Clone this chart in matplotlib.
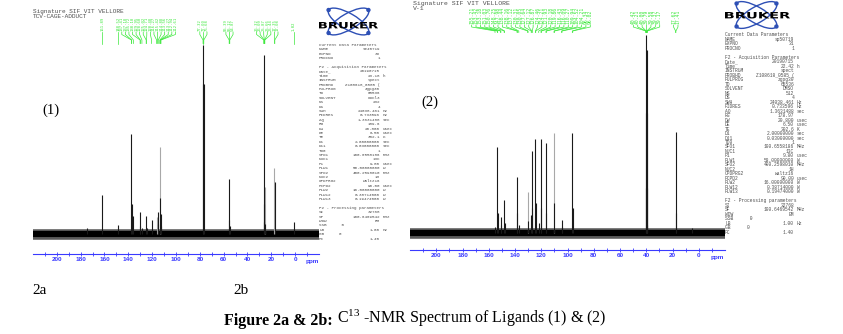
import numpy as np
import matplotlib.pyplot as plt
from matplotlib.patches import Ellipse, Circle, PathPatch
from matplotlib.textpath import TextPath
from matplotlib.font_manager import FontProperties
from matplotlib.transforms import Affine2D, blended_transform_factory

plt.rcParams['mathtext.fontset'] = 'custom'
plt.rcParams['mathtext.rm'] = 'Liberation Serif'
plt.rcParams['mathtext.it'] = 'Liberation Serif:italic'
plt.rcParams['mathtext.bf'] = 'Liberation Serif:bold'

W, H = 843, 334
BLUE = '#3a3aff'
GREEN = '#3be83b'
GREY = '#505050'
LOGO = '#2d4fb5'

# ligand (1), CDCl3 : picked shifts (ppm) and peak heights
pick1 = [161.89, 148.52, 137.41, 137.18, 135.72, 130.10, 129.95, 128.60,
         125.02, 124.71, 120.48, 116.27, 115.42, 114.88, 113.56, 113.27,
         112.94, 112.61, 77.32, 77.00, 76.68, 55.39, 55.12, 54.87,
         26.32, 26.09, 25.87, 25.66, 25.44, 17.35, 17.08, 1.02]
int1 = [39, 9, 100, 30, 18, 22, 8, 6,
        18, 6, 14, 17, 22, 10, 87, 36,
        20, 8, 150, 189, 150, 55, 14, 8,
        12, 30, 179, 47, 10, 66, 52, 12]
extra1 = [174.6]
extra1_int = [6]

# ligand (2), DMSO-d6
pick2 = [155.21, 153.42, 153.18, 151.03, 150.76, 148.25, 147.98, 138.44,
         138.16, 137.12, 130.31, 130.05, 127.64, 127.12, 126.87, 124.46,
         124.21, 121.93, 120.18, 119.86, 116.43, 116.09, 110.27, 109.94,
         104.52, 104.21, 96.34, 96.02, 40.42, 40.21, 40.00, 39.79,
         39.58, 39.37, 39.17, 17.62, 17.41]
int2 = [6, 86, 20, 16, 8, 33, 10, 56,
        20, 8, 41, 12, 18, 82, 25, 94,
        30, 10, 94, 25, 90, 20, 100, 30,
        13, 6, 100, 25, 45, 120, 198, 183,
        120, 45, 8, 101, 20]
extra2 = [5.1]
extra2_int = [5]

faint1 = [116.27, 113.56, 25.66, 17.35]
faint2 = [130.31, 110.27]

ticks = list(range(200, -1, -20))
minor_ticks = list(range(210, -11, -10))

par_name = ['Current Data Parameters', 'NAME', 'EXPNO', 'PROCNO', '',
            'F2 - Acquisition Parameters', 'Date_', 'Time', 'INSTRUM', 'PROBHD',
            'PULPROG', 'TD', 'SOLVENT', 'NS', 'DS', 'SWH', 'FIDRES', 'AQ', 'RG',
            'DW', 'DE', 'TE', 'D1', 'D11', 'TD0', 'SFO1', 'NUC1', 'P1', 'PLW1',
            'SFO2', 'NUC2', 'CPDPRG2', 'PCPD2', 'PLW2', 'PLW12', 'PLW13', '',
            'F2 - Processing parameters', 'SI', 'SF', 'WDW', 'SSB      0', 'LB',
            'GB      0', 'PC']
par_unit = ['', '', '', '', '', '', '', 'h', '', '', '', '', '', '', '', 'Hz',
            'Hz', 'sec', '', 'usec', 'usec', 'K', 'sec', 'sec', '', 'MHz', '',
            'usec', 'W', 'MHz', '', '', 'usec', 'W', 'W', 'W', '', '', '', 'MHz',
            '', '', 'Hz', '', '']
par_val1 = ['', 'se40719', '33', '1', '', '', '20190715', '23.18', 'spect',
            'Z108618_0585 (', 'zgpg30', '65536', 'CDCl3', '232', '4',
            '24038.461', '0.733596', '1.3631488', '189.6', '20.800', '6.50',
            '302.1', '2.00000000', '0.03000000', '1', '100.6558186', '13C',
            '9.80', '58.00000000', '400.2598010', '1H', 'waltz16', '90.00',
            '16.00000000', '0.38714000', '0.19474000', '', '', '32768',
            '100.6469542', 'EM', '', '1.00', '', '1.40']
par_val2 = ['', 'sp50719', '31', '1', '', '', '20190715', '22.42', 'spect',
            'Z108618_0585 (', 'zgpg30', '65536', 'DMSO', '512', '4',
            '24038.461', '0.733596', '1.3631488', '178.97', '20.800', '6.50',
            '302.6', '2.00000000', '0.03000000', '1', '100.6558186', '13C',
            '9.80', '58.00000000', '400.2598010', '1H', 'waltz16', '90.00',
            '16.00000000', '0.38714000', '0.19474000', '', '', '32768',
            '100.6469542', 'EM', '', '1.00', '', '1.40']

fig = plt.figure(figsize=(W / 100, H / 100), dpi=100)


def spread(vals, gap):
    # push neighbouring labels apart, each cluster centred on its peaks
    groups = [[v] for v in vals]

    def place(g):
        return np.mean(g) + gap * (len(g) - 1) / 2 - gap * np.arange(len(g))

    merged = True
    while merged:
        merged = False
        for i in range(len(groups) - 1):
            if place(groups[i])[-1] - place(groups[i + 1])[0] < gap:
                groups[i] = groups[i] + groups.pop(i + 1)
                merged = True
                break
    return np.concatenate([place(g) for g in groups])


def spectrum(px_left, px_bottom, px_width, base_px, shifts, heights, faint):
    ax = fig.add_axes([px_left / W, 1 - px_bottom / H, px_width / W, px_bottom / H])
    ax.set_facecolor('none')
    ax.set_xlim(220, -20)
    ax.set_ylim(-(px_bottom - base_px), base_px)
    ax.axhline(0, color='#5a5a5a', lw=7.6, zorder=1)
    ax.axhline(0, color='black', lw=4.4, zorder=2)
    shifts = np.array(shifts)
    heights = np.array(heights)
    light = np.isin(shifts, faint)
    ax.vlines(shifts[light], 0, heights[light], colors='#a8a8a8', lw=0.8, zorder=3)
    ax.vlines(shifts[~light], 0, heights[~light], colors='#1a1a1a', lw=0.8, zorder=4)
    for s in ['left', 'right', 'top']:
        ax.spines[s].set_visible(False)
    ax.spines['bottom'].set_color(BLUE)
    ax.spines['bottom'].set_linewidth(0.8)
    ax.set_yticks([])
    ax.set_xticks(ticks)
    ax.set_xticks(minor_ticks, minor=True)
    ax.set_xticklabels([str(t) for t in ticks])
    ax.tick_params(axis='x', which='both', direction='inout', color=BLUE,
                   length=2.5, width=0.6, pad=1.2, labelsize=4.6, labelcolor=BLUE)
    for lab in ax.get_xticklabels():
        lab.set_fontweight('bold')
        lab.set_family('Liberation Sans')
    ax.text(-14.4, -7.3 / px_bottom, 'ppm', transform=ax.get_xaxis_transform(),
            ha='center', va='center', fontsize=4.6, color=BLUE,
            fontweight='bold', family='Liberation Sans')
    return ax


def picks(ax, vals, gap, y_txt, y_k1, y_k2, y_end, fs):
    tr = blended_transform_factory(ax.transData, fig.transFigure)
    vals = sorted(vals, reverse=True)
    pos = spread(vals, gap)
    fy = lambda y: 1 - y / H
    for v, p in zip(vals, pos):
        ax.plot([p, p, v, v], [fy(y_txt), fy(y_k1), fy(y_k2), fy(y_end)],
                color=GREEN, lw=0.5, transform=tr, clip_on=False)
        ax.text(p, fy(y_txt - 0.6), f'{v:.2f}', rotation=90, ha='center',
                va='bottom', transform=tr, fontsize=fs, color=GREEN,
                family='DejaVu Sans Mono')


ax1 = spectrum(33, 254, 286, 234, pick1 + extra1, int1 + extra1_int, faint1)
picks(ax1, pick1, 3.0, 32, 34.5, 40, 43.5, 2.8)

ax2 = spectrum(410, 250, 315, 233, pick2 + extra2, int2 + extra2_int, faint2)
picks(ax2, pick2, 3.35, 25, 27, 31, 32.5, 3.4)

# overlay in pixel units for the page furniture
ov = fig.add_axes([0, 0, 1, 1])
ov.set_xlim(0, W)
ov.set_ylim(H, 0)
ov.axis('off')


def logo(cx, cy, tx0, tx1, ty0, ty1):
    for ang in (30, -30):
        ov.add_patch(Ellipse((cx, cy), 46, 16, angle=ang, fill=False,
                             ec=LOGO, lw=1.0))
        t = np.radians(ang)
        for sgn in (1, -1):
            ov.add_patch(Circle((cx + sgn * 23 * np.cos(t), cy + sgn * 23 * np.sin(t)),
                                1.5, color=LOGO))
    tp = TextPath((0, 0), 'BRUKER', size=10,
                  prop=FontProperties(family='DejaVu Sans', weight='bold'))
    ext = tp.get_extents()
    tr = (Affine2D().translate(-ext.x0, -ext.y0)
          .scale((tx1 - tx0) / ext.width, -(ty1 - ty0) / ext.height)
          .translate(tx0, ty1))
    ov.add_patch(PathPatch(tr.transform_path(tp), fc='black', ec='none'))


def param_block(x, y0, dy, vx, fs, values):
    cw = 0.6 * fs * 100 / 72
    for i, (n, v, u) in enumerate(zip(par_name, values, par_unit)):
        y = y0 + i * dy
        kw = dict(fontsize=fs, family='Liberation Mono', color=GREY, va='center')
        if n:
            ov.text(x, y, n, ha='left', **kw)
        if v:
            ov.text(vx, y, v, ha='right', **kw)
        if u:
            ov.text(vx + cw, y, u, ha='left', **kw)


logo(348.5, 21.5, 319, 378, 22, 28.5)
logo(756.5, 15, 725, 790, 12, 18.5)
param_block(319, 45, 4.4, 380, 3.06, par_val1)
param_block(725, 35, 4.48, 794, 3.3, par_val2)

mono = dict(family='Liberation Mono', color=GREY, va='center', ha='left')
ov.text(33, 11, 'Signature SIF VIT VELLORE', fontsize=4.4, **mono)
ov.text(33, 16.5, 'TCV-CAGE-ADDUCT', fontsize=4.4, **mono)
ov.text(413, 3.0, 'Signature SIF VIT VELLORE', fontsize=4.65, **mono)
ov.text(413, 8.2, 'V-1', fontsize=4.65, **mono)

serif = dict(family='Liberation Serif', color='black', va='center')
ov.text(51, 110, '(1)', fontsize=10.5, ha='center', **serif)
ov.text(430, 102, '(2)', fontsize=10.5, ha='center', **serif)
ov.text(32, 290, '2a', fontsize=11, ha='left', **serif)
ov.text(233, 290, '2b', fontsize=11, ha='left', **serif)

t1 = ov.text(224, 321, 'Figure 2a & 2b:', fontsize=11.5, fontweight='bold',
             family='Liberation Serif', ha='left', va='center')
ov.annotate(' C$^{13}$ -NMR Spectrum of Ligands (1) & (2)', xy=(1, 0),
            xycoords=t1, ha='left', va='bottom', fontsize=11.5,
            family='Liberation Serif')

fig.savefig('out.png', dpi=100)
